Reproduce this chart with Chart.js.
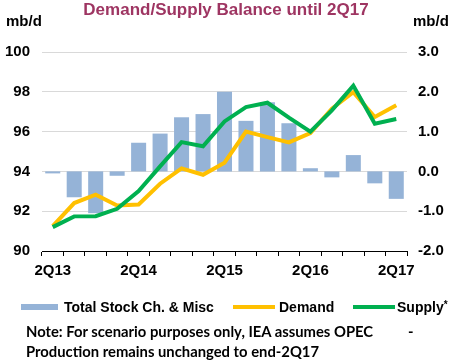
<!DOCTYPE html>
<html>
<head>
<meta charset="utf-8">
<script src="https://cdn.jsdelivr.net/npm/chart.js@4.4.1/dist/chart.umd.min.js"></script>
<style>
  html, body { margin: 0; padding: 0; background: #fff; }
  #wrap { position: relative; width: 452px; height: 364px; font-family: "Liberation Sans", Arial, sans-serif; }
  #wrap canvas { position: absolute; left: 0; top: 0; }
  .txt { position: absolute; white-space: nowrap; font-weight: bold; }
  #title { left: 0; width: 452px; top: 0; text-align: center; font-size: 17px; color: #9E3562; line-height: 20px; }
  .unit { top: 12px; font-size: 15px; color: #000; line-height: 18px; }
  #legend { position: absolute; top: 298px; left: 0; width: 452px; height: 18px; font-size: 14px; line-height: 18px; color: #000; }
  .sw { position: absolute; }
  .star { font-size: 10px; vertical-align: top; line-height: 14px; }
  #note { left: 26px; top: 321px; font-family: Lato, "Open Sans", sans-serif; font-size: 14.8px; line-height: 20px; color: #000; }
</style>
</head>
<body>
<div id="wrap">
  <canvas id="balanceChart" width="452" height="364"></canvas>
  <div class="txt" id="title">Demand/Supply Balance until 2Q17</div>
  <div class="txt unit" style="left:6px">mb/d</div>
  <div class="txt unit" style="left:413px">mb/d</div>
  <div id="legend">
    <div class="sw" style="left:21px; top:6px; width:37px; height:6px; background:#95B3D7"></div>
    <div class="txt" style="left:64px; top:0">Total Stock Ch. &amp; Misc</div>
    <div class="sw" style="left:233px; top:7px; width:42px; height:4px; background:#FFC000"></div>
    <div class="txt" style="left:279px; top:0">Demand</div>
    <div class="sw" style="left:353px; top:7px; width:42px; height:4px; background:#00B050"></div>
    <div class="txt" style="left:397px; top:0">Supply<span class="star">*</span></div>
  </div>
  <div class="txt" id="note">Note: For scenario purposes only, IEA assumes OPEC<span style="position:absolute; left:382px">-</span><br>Production remains unchanged to end-2Q17</div>
</div>
<script>
// Trimestres
const quarters = ['2Q13', '3Q13', '4Q13', '1Q14', '2Q14', '3Q14', '4Q14', '1Q15', '2Q15',
                  '3Q15', '4Q15', '1Q16', '2Q16', '3Q16', '4Q16', '1Q17', '2Q17'];

// Variação de estoques (eixo direito)
const stockChange = [-0.05, -0.65, -1.05, -0.11, 0.72, 0.95, 1.36, 1.44, 2.0,
                     1.27, 1.74, 1.21, 0.08, -0.15, 0.41, -0.30, -0.69];

// Demanda e oferta (eixo esquerdo)
const demand = [91.25, 92.41, 92.83, 92.29, 92.34, 93.38, 94.15, 93.83, 94.44,
                96.0, 95.72, 95.46, 95.93, 97.15, 97.98, 96.73, 97.32];
const supply = [91.2, 91.74, 91.75, 92.12, 93.01, 94.25, 95.47, 95.26, 96.51,
                97.23, 97.45, 96.7, 96.0, 97.07, 98.31, 96.4, 96.63];

const tickFont = { family: '"Liberation Sans", Arial, sans-serif', size: 15, weight: 'bold' };

const ctx = document.getElementById('balanceChart');
new Chart(ctx, {
    data: {
        labels: quarters,
        datasets: [
            {
                type: 'line',
                label: 'Supply*',
                data: supply,
                yAxisID: 'y',
                borderColor: '#00B050',
                borderWidth: 4,
                pointRadius: 0,
                tension: 0,
                order: 1
            },
            {
                type: 'line',
                label: 'Demand',
                data: demand,
                yAxisID: 'y',
                borderColor: '#FFC000',
                borderWidth: 4,
                pointRadius: 0,
                tension: 0,
                order: 2
            },
            {
                type: 'bar',
                label: 'Total Stock Ch. & Misc',
                data: stockChange,
                yAxisID: 'y1',
                backgroundColor: '#95B3D7',
                barPercentage: 0.7,
                categoryPercentage: 1,
                order: 3
            }
        ]
    },
    options: {
        responsive: false,
        animation: false,
        layout: { padding: { top: 52, bottom: 83, left: 0, right: 0 } },
        plugins: {
            legend: { display: false },
            title: { display: false },
            tooltip: { enabled: false }
        },
        scales: {
            x: {
                offset: true,
                grid: { offset: true, drawOnChartArea: false, tickLength: 5, color: '#000' },
                border: { color: '#000', width: 1 },
                ticks: {
                    autoSkip: false,
                    maxRotation: 0,
                    padding: 6,
                    color: '#000',
                    font: tickFont,
                    callback: function(value, index) {
                        return index % 4 === 0 ? quarters[index] : '';
                    }
                },
                afterFit: function(scale) { scale.height = 30; }
            },
            y: {
                position: 'left',
                min: 90,
                max: 100,
                grid: { color: '#D9D9D9', drawTicks: false },
                border: { display: false },
                ticks: { stepSize: 2, padding: 12, color: '#000', font: tickFont },
                afterFit: function(scale) { scale.width = 42; }
            },
            y1: {
                position: 'right',
                min: -2,
                max: 3,
                grid: { display: false, drawTicks: false },
                border: { display: false },
                ticks: {
                    stepSize: 1,
                    padding: 11,
                    color: '#000',
                    font: tickFont,
                    callback: function(value) { return value.toFixed(1); }
                },
                afterFit: function(scale) { scale.width = 45; }
            }
        }
    }
});
</script>
</body>
</html>
